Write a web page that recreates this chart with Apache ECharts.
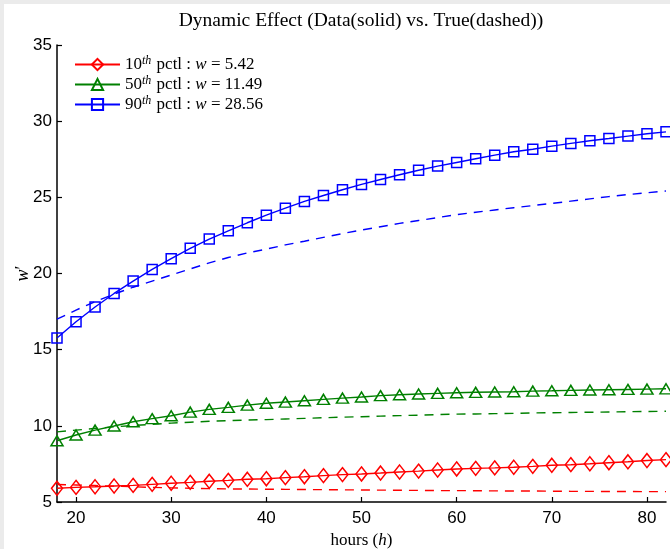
<!DOCTYPE html>
<html>
<head>
<meta charset="utf-8">
<script src="https://cdn.jsdelivr.net/npm/echarts@6/dist/echarts.min.js"></script>
<style>
html,body{margin:0;padding:0;background:#ebebeb;width:670px;height:549px;overflow:hidden;}
#chart{position:absolute;left:4px;top:4px;width:666px;height:545px;background:#fff;}
</style>
</head>
<body>
<div id="chart"></div>
<script>
const hours = [18,20,22,24,26,28,30,32,34,36,38,40,42,44,46,48,50,52,54,56,58,60,62,64,66,68,70,72,74,76,78,80,82];
const xTicks = [20,30,40,50,60,70,80];
const pctls = ['10','50','90'];
const wVals = ['5.42','11.49','28.56'];

const p10Data = [5.90,5.96,6.00,6.05,6.09,6.16,6.23,6.29,6.36,6.42,6.49,6.53,6.60,6.66,6.73,6.80,6.84,6.90,6.97,7.03,7.10,7.17,7.21,7.24,7.28,7.34,7.41,7.45,7.51,7.58,7.64,7.72,7.78];
const p10True = [6.15,6.12,6.08,6.04,6.00,5.96,5.93,5.90,5.88,5.86,5.85,5.84,5.83,5.82,5.81,5.80,5.79,5.78,5.77,5.76,5.75,5.75,5.74,5.73,5.72,5.72,5.71,5.70,5.70,5.69,5.69,5.68,5.68];
const p50Data = [9.02,9.40,9.72,9.99,10.27,10.47,10.66,10.90,11.08,11.21,11.36,11.48,11.56,11.65,11.74,11.82,11.89,11.98,12.04,12.09,12.13,12.17,12.20,12.22,12.24,12.28,12.30,12.33,12.35,12.37,12.39,12.41,12.43];
const p50True = [9.60,9.72,9.83,9.93,10.02,10.10,10.18,10.24,10.30,10.34,10.38,10.41,10.45,10.49,10.53,10.57,10.60,10.64,10.67,10.70,10.74,10.77,10.78,10.80,10.82,10.85,10.86,10.88,10.89,10.91,10.93,10.94,10.96];
const p90Data = [15.76,16.83,17.80,18.69,19.50,20.27,20.97,21.65,22.26,22.80,23.33,23.83,24.29,24.73,25.12,25.50,25.85,26.17,26.48,26.78,27.05,27.29,27.53,27.77,27.99,28.16,28.36,28.54,28.71,28.86,29.02,29.17,29.30];
const p90True = [17.00,17.60,18.15,18.65,19.10,19.50,19.90,20.30,20.70,21.05,21.35,21.60,21.88,22.12,22.37,22.62,22.85,23.07,23.29,23.48,23.67,23.86,24.02,24.17,24.32,24.46,24.60,24.75,24.90,25.05,25.18,25.30,25.42];

const colors = ['#ff0000','#008000','#0000ff'];
const symbols = ['diamond','triangle','rect'];
const symbolSizes = [[11,14],[12,10],[10,10]];
const dataSets = [p10Data,p50Data,p90Data];
const trueSets = [p10True,p50True,p90True];
const names = pctls.map((p,i)=>p+'th pctl : w = '+wVals[i]);

const serif = '"Liberation Serif","DejaVu Serif",serif';
const sans = '"Liberation Sans",Arial,sans-serif';

const series = [];
dataSets.forEach((d,i)=>{
  series.push({
    name: names[i], type:'line', data: hours.map((h,k)=>[h,d[k]]),
    symbol: symbols[i], symbolSize: symbolSizes[i], showAllSymbol:true, clip:false,
    lineStyle:{color:colors[i],width:1.4},
    itemStyle:{color:'transparent',borderColor:colors[i],borderWidth:1.5},
    emphasis:{disabled:true}, z:3
  });
});
trueSets.forEach((d,i)=>{
  series.push({
    name: 'true'+i, type:'line', data: hours.map((h,k)=>[h,d[k]]),
    symbol:'none', clip:false,
    lineStyle:{color:colors[i],width:1.4,type:[9,7]},
    emphasis:{disabled:true}, z:2
  });
});

const chart = echarts.init(document.getElementById('chart'));
chart.setOption({
  animation:false,
  graphic:[{type:'text', x:357, y:17, style:{text:'Dynamic Effect (Data(solid) vs. True(dashed))', font:'19.5px '+serif, fill:'#000', align:'center', verticalAlign:'middle'}}],
  grid:{left:53, right:4, top:41, bottom:47, outerBoundsMode:'none', containLabel:false},
  legend:{
    orient:'vertical', left:65, top:46, itemWidth:45, itemHeight:14, itemGap:2,
    data: names,
    formatter:function(n){
      const i = names.indexOf(n);
      return '{n|'+pctls[i]+'}{sup|th}{n| pctl : }{it|w}{n| = '+wVals[i]+'}';
    },
    textStyle:{fontFamily:serif, fontSize:17, color:'#000',
      rich:{
        n:{fontFamily:serif,fontSize:17,color:'#000',lineHeight:19},
        sup:{fontFamily:serif,fontSize:12,fontStyle:'italic',color:'#000',verticalAlign:'top',lineHeight:19,padding:[0,1,6,0]},
        it:{fontFamily:serif,fontSize:17,fontStyle:'italic',color:'#000',lineHeight:19}
      }}
  },
  xAxis:{
    type:'value', min:18, max:82,
    name:'{n|hours (}{it|h}{n|)}', nameLocation:'middle', nameGap:30, nameMoveOverlap:false,
    nameTextStyle:{rich:{n:{fontFamily:serif,fontSize:17,color:'#000'},it:{fontFamily:serif,fontSize:17,fontStyle:'italic',color:'#000'}}},
    axisLine:{show:true,lineStyle:{color:'#000',width:1.5}},
    axisTick:{show:true,inside:true,length:5,customValues:xTicks,lineStyle:{color:'#000',width:1.2}},
    axisLabel:{customValues:xTicks,fontFamily:sans,fontSize:17,color:'#000',margin:8},
    splitLine:{show:false}
  },
  yAxis:{
    type:'value', min:5, max:35, interval:5,
    name:'{it|w}{n|′}', nameLocation:'middle', nameGap:25, nameRotate:90, nameMoveOverlap:false,
    nameTextStyle:{rich:{n:{fontFamily:serif,fontSize:18,color:'#000'},it:{fontFamily:serif,fontSize:18,fontStyle:'italic',color:'#000'}}},
    axisLine:{show:true,lineStyle:{color:'#000',width:1.5}},
    axisTick:{show:true,inside:true,length:5,lineStyle:{color:'#000',width:1.2}},
    axisLabel:{fontFamily:sans,fontSize:17,color:'#000',margin:5},
    splitLine:{show:false}
  },
  series: series
});
</script>
</body>
</html>
